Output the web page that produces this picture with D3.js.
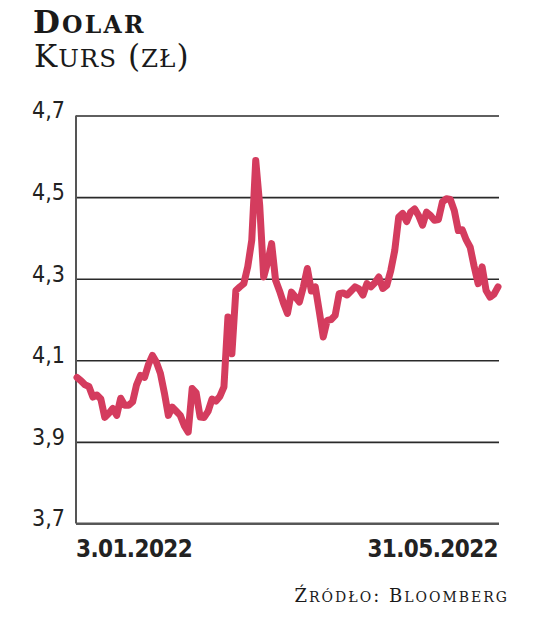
<!DOCTYPE html>
<html><head><meta charset="utf-8">
<script src="https://cdn.jsdelivr.net/npm/d3@7"></script>
<style>
html,body{margin:0;padding:0;background:#fff;}
svg{display:block;}
</style></head>
<body>
<script>
const title = "Dolar";
const subtitle = "Kurs (zł)";
const source = "Źródło: Bloomberg";
const yTicks = [3.7, 3.9, 4.1, 4.3, 4.5, 4.7];
const xLabels = ["3.01.2022", "31.05.2022"];
const rates = [
4.058,4.05,4.04,4.036,4.01,4.015,4.005,3.96,3.97,3.982,
3.965,4.007,3.99,3.99,3.998,4.04,4.063,4.058,4.09,4.112,
4.095,4.068,4.02,3.965,3.985,3.975,3.965,3.94,3.924,4.031,
4.02,3.961,3.96,3.975,4.005,4.0,4.012,4.035,4.206,4.116,
4.271,4.28,4.288,4.33,4.394,4.59,4.48,4.304,4.34,4.386,
4.296,4.27,4.24,4.215,4.267,4.255,4.243,4.28,4.325,4.27,
4.28,4.22,4.157,4.198,4.2,4.21,4.263,4.265,4.26,4.27,
4.28,4.275,4.26,4.288,4.28,4.29,4.304,4.276,4.284,4.32,
4.369,4.451,4.46,4.44,4.463,4.471,4.455,4.431,4.463,4.455,
4.443,4.445,4.488,4.496,4.494,4.467,4.418,4.42,4.395,4.377,
4.33,4.288,4.329,4.271,4.255,4.262,4.28
];

const W = 536, H = 623;
const svg = d3.select("body").append("svg").attr("width", W).attr("height", H);
const pL = 76, pR = 499, pT = 115.5, pB = 523.5;

const x = d3.scaleLinear().domain([0, rates.length - 1]).range([pL + 1, pR - 1]);
const y = d3.scaleLinear().domain([3.7, 4.7]).range([pB, pT]);

// small-caps helper: capitals at big size, lowercase shown as smaller capitals
function smallCaps(sel, str, big, small) {
  const runs = [];
  for (const ch of str) {
    const isLower = ch !== ch.toUpperCase();
    const last = runs[runs.length - 1];
    if (last && last.lower === isLower) last.t += ch; else runs.push({t: ch, lower: isLower});
  }
  runs.forEach(r => {
    sel.append("tspan").style("font-size", (r.lower ? small : big) + "px")
      .style("text-transform", "uppercase").text(r.t);
  });
}

const serif = "'DejaVu Serif', serif";
const t1 = svg.append("text").attr("x", 33).attr("y", 33)
  .style("font-family", serif).style("font-weight", "bold").style("letter-spacing", "2.2px")
  .attr("fill", "#1a1a1a");
smallCaps(t1, title, 31, 23.5);
const t2 = svg.append("text").attr("x", 34).attr("y", 67)
  .style("font-family", serif).style("letter-spacing", "1px").attr("fill", "#1a1a1a");
smallCaps(t2, subtitle, 31, 24.5);

// gridlines
const yAxis = d3.axisLeft(y).tickValues(yTicks).tickSize(-(pR - pL)).tickPadding(10)
  .tickFormat(d => d3.format(".1f")(d).replace(".", ","));
const gy = svg.append("g").attr("transform", `translate(${pL},0)`).call(yAxis);
gy.select(".domain").remove();
gy.selectAll(".tick line").attr("stroke", "#2a2a2a").attr("stroke-width", 1.6);
gy.selectAll(".tick text").attr("fill", "#222")
  .style("font-family", "'DejaVu Sans Condensed', 'DejaVu Sans', sans-serif")
  .style("font-stretch", "condensed")
  .style("font-size", "23px").attr("x", -11).attr("dy", "0.1em");

// axis lines
svg.append("line").attr("x1", pL).attr("x2", pL).attr("y1", pT).attr("y2", pB)
  .attr("stroke", "#555").attr("stroke-width", 2);
svg.append("line").attr("x1", pL).attr("x2", pR).attr("y1", pB).attr("y2", pB)
  .attr("stroke", "#555").attr("stroke-width", 2);

// line
const line = d3.line().x((d, i) => x(i)).y(d => y(d)).curve(d3.curveLinear);
svg.append("path").datum(rates).attr("d", line)
  .attr("fill", "none").attr("stroke", "#d43c5e").attr("stroke-width", 7)
  .attr("stroke-linejoin", "round").attr("stroke-linecap", "round");

// x labels
const dateFont = "'DejaVu Sans Condensed', 'DejaVu Sans', sans-serif";
svg.append("text").attr("x", pL).attr("y", 557).attr("text-anchor", "start")
  .style("font-family", dateFont).style("font-stretch", "condensed").style("font-weight", "bold")
  .style("font-size", "24px").style("letter-spacing", "-0.6px").attr("fill", "#222").text(xLabels[0]);
svg.append("text").attr("x", pR - 1).attr("y", 557).attr("text-anchor", "end")
  .style("font-family", dateFont).style("font-stretch", "condensed").style("font-weight", "bold")
  .style("font-size", "24px").style("letter-spacing", "-0.6px").attr("fill", "#222").text(xLabels[1]);

// source
const t3 = svg.append("text").attr("x", 509).attr("y", 602).attr("text-anchor", "end")
  .style("font-family", serif).style("letter-spacing", "2px").attr("fill", "#1a1a1a");
smallCaps(t3, source, 18, 14);
</script>
</body></html>
